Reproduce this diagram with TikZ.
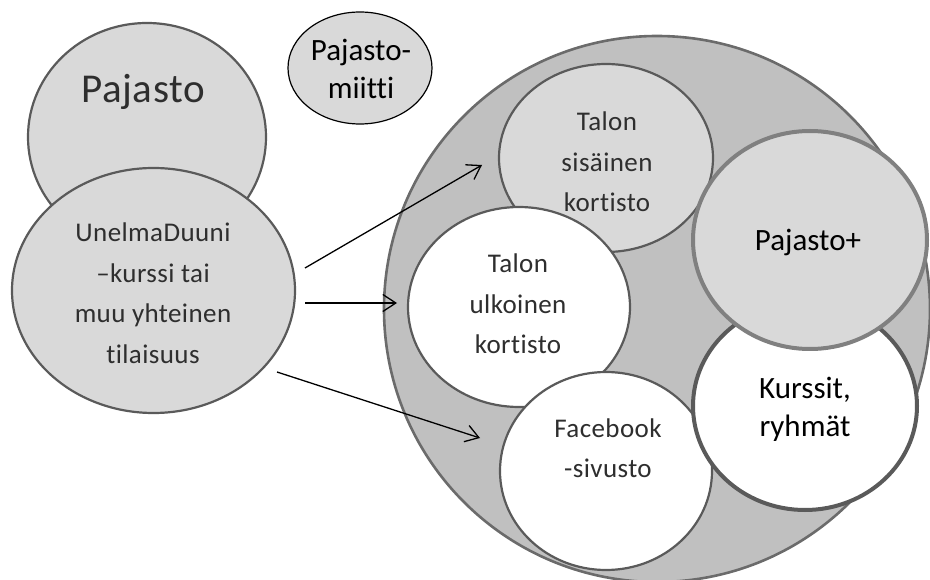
\documentclass[tikz,border=0pt]{standalone}
\usepackage{fontspec}
\setmainfont{Carlito}[Ligatures=NoCommon]
\newfontfamily\grayfont{Carlito}[Ligatures=NoCommon, LetterSpace=1.5]
\usetikzlibrary{shapes.geometric,arrows.meta}
\definecolor{gl}{HTML}{D9D9D9}
\definecolor{gm}{HTML}{C0C0C0}
\definecolor{od}{HTML}{5A5A5A}
\definecolor{op}{HTML}{808080}
\definecolor{tx}{HTML}{2E2E2E}
\tikzset{
  blob/.style={ellipse, draw=od, line width=2.2pt, inner sep=0pt},
  lightblob/.style={blob, fill=gl},
  whiteblob/.style={blob, fill=white},
  lbl/.style={align=center, text=tx, inner sep=0pt, font=\grayfont\fontsize{27}{40.5}\selectfont},
  lblk/.style={align=center, text=black, inner sep=0pt, font=\fontsize{31}{38}\selectfont},
  arr/.style={-{Straight Barb[length=13pt,width=17pt,line width=1.3pt]}, line width=1.3pt, black}
}
\begin{document}
\begin{tikzpicture}[x=1pt,y=-1pt]
\useasboundingbox (0,0) rectangle (930,580);
\clip (0,0) rectangle (930,580);
% left group
\node[lightblob, minimum width=238pt, minimum height=228pt] (paj) at (147,137) {};
\node[lightblob, minimum width=283pt, minimum height=245pt] (une) at (153.5,290.5) {};
\node[ellipse, draw=black, line width=1.2pt, fill=gl, inner sep=0pt, minimum width=144pt, minimum height=112pt] (pm) at (360,68) {};
% big circle group
\node[blob, fill=gm, draw=od!90, line width=2.6pt, minimum width=546pt, minimum height=546pt] (big) at (657,309) {};
\node[lightblob, minimum width=214pt, minimum height=188pt] (sis) at (606,158) {};
\node[whiteblob, minimum width=222pt, minimum height=200pt] (ulk) at (519,307) {};
\node[whiteblob, minimum width=212pt, minimum height=198pt] (fb) at (606,471) {};
\node[whiteblob, line width=4pt, minimum width=224pt, minimum height=208pt] (kur) at (805,406) {};
\node[lightblob, draw=op, line width=4pt, minimum width=234pt, minimum height=218pt] (pplus) at (810,240) {};
% texts
\node[lbl, font=\grayfont\fontsize{41}{46}\selectfont] (tpaj) at (143,92) {Pajasto};
\node[lbl] (tune) at (153,293) {UnelmaDuuni\\–kurssi tai\\muu yhteinen\\tilaisuus};
\node[lblk] (tpm) at (361,69) {Pajasto-\\miitti};
\node[lbl] (tsis) at (607,162) {Talon\\sisäinen\\kortisto};
\node[lbl] (tulk) at (518,304) {Talon\\ulkoinen\\kortisto};
\node[lbl] (tfb) at (608,448) {Facebook\\-sivusto};
\node[lblk] (tpplus) at (808,242) {Pajasto+};
\node[lblk] (tkur) at (805,409) {Kurssit,\\ryhmät};
% arrows
\coordinate (a1s) at (305,268);
\coordinate (a1e) at (482,165);
\coordinate (a2s) at (305,303);
\coordinate (a2e) at (397,303);
\coordinate (a3s) at (277,372);
\coordinate (a3e) at (480,438);
\draw[arr] (a1s) -- (a1e);
\draw[arr] (a2s) -- (a2e);
\draw[arr] (a3s) -- (a3e);
\end{tikzpicture}
\end{document}
